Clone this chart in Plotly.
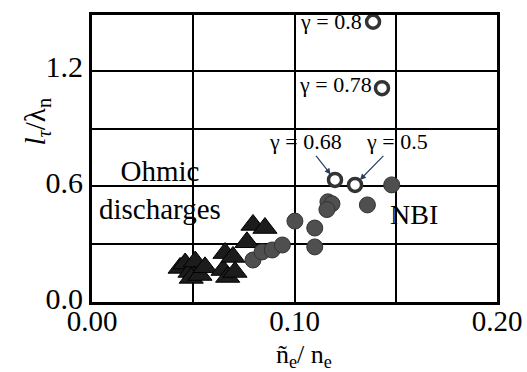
import plotly.graph_objects as go

# Ohmic discharges (triangles)
ohmic_x = [0.0435, 0.046, 0.0484, 0.049, 0.051, 0.0533, 0.0558,
           0.0647, 0.0657, 0.067, 0.0696, 0.0706, 0.0765, 0.0795, 0.0854]
ohmic_y = [0.177, 0.20, 0.156, 0.125, 0.21, 0.14, 0.18,
           0.166, 0.254, 0.13, 0.234, 0.156, 0.31, 0.40, 0.384]

# NBI (filled circles)
nbi_x = [0.0795, 0.084, 0.089, 0.094, 0.1002, 0.110, 0.110,
         0.1165, 0.1185, 0.116, 0.136, 0.148]
nbi_y = [0.218, 0.26, 0.27, 0.296, 0.42, 0.384, 0.286,
         0.52, 0.51, 0.48, 0.504, 0.608]

# Open circles with gamma labels
open_x = [0.1388, 0.1432, 0.120, 0.1299]
open_y = [1.455, 1.11, 0.634, 0.608]
open_labels = ["γ = 0.8", "γ = 0.78", "γ = 0.68", "γ = 0.5"]

y_ticks = [0.0, 0.6, 1.2]
y_ticktext = ["0.0", "0.6", "1.2"]
y_grid_step = 0.3
x_ticks = [0.0, 0.10, 0.20]
x_ticktext = ["0.00", "0.10", "0.20"]
x_grid_step = 0.05

FONT = "Liberation Serif"

fig = go.Figure()
fig.add_trace(go.Scatter(
    x=ohmic_x, y=ohmic_y, mode="markers",
    marker=dict(symbol="triangle-up", size=21, color="#1c1c1c",
                line=dict(color="#000", width=1)),
    showlegend=False))
fig.add_trace(go.Scatter(
    x=nbi_x, y=nbi_y, mode="markers",
    marker=dict(symbol="circle", size=16, color="#4f4f4f",
                line=dict(color="#333", width=1)),
    showlegend=False))
fig.add_trace(go.Scatter(
    x=open_x, y=open_y, mode="markers",
    marker=dict(symbol="circle", size=13, color="white",
                line=dict(color="#333", width=3.5)),
    showlegend=False))

# gamma labels
fig.add_annotation(x=open_x[0], y=open_y[0], text=open_labels[0], showarrow=False,
                   xanchor="right", xshift=-9, yshift=0, font=dict(size=22))
fig.add_annotation(x=open_x[1], y=open_y[1], text=open_labels[1], showarrow=False,
                   xanchor="right", xshift=-8, yshift=4, font=dict(size=22))
fig.add_annotation(x=open_x[2], y=open_y[2], text=open_labels[2], showarrow=True,
                   arrowhead=2, arrowsize=1, arrowwidth=1.2, standoff=7,
                   ax=-30, ay=-38, font=dict(size=22))
fig.add_annotation(x=open_x[3], y=open_y[3], text=open_labels[3], showarrow=True,
                   arrowhead=2, arrowsize=1, arrowwidth=1.2, standoff=7,
                   ax=42, ay=-43, font=dict(size=22))

fig.add_annotation(x=0.0336, y=0.58, text="Ohmic<br>discharges", showarrow=False,
                   align="center", font=dict(size=29))
fig.add_annotation(x=0.159, y=0.452, text="NBI", showarrow=False,
                   font=dict(size=28))

# axis titles placed like the reference
fig.add_annotation(xref="paper", yref="paper", x=-0.135, y=0.63,
                   text="<i>l</i><sub><i>τ</i></sub>/λ<sub>n</sub>", textangle=-90,
                   showarrow=False, xanchor="center", yanchor="middle",
                   font=dict(size=29))
fig.add_annotation(xref="paper", yref="paper", x=0.523, y=-0.188,
                   text="ñ<sub>e</sub>/ n<sub>e</sub>",
                   showarrow=False, xanchor="center", yanchor="middle",
                   font=dict(size=26))

fig.update_layout(
    width=527, height=372,
    margin=dict(l=92, r=30, t=15, b=70, autoexpand=False),
    plot_bgcolor="white", paper_bgcolor="white",
    font=dict(family=FONT, color="black", size=29),
    xaxis=dict(range=[0, 0.2], tickvals=x_ticks, ticktext=x_ticktext,
               showgrid=True, gridcolor="black", gridwidth=1.5,
               minor=dict(dtick=x_grid_step, tick0=0, showgrid=True,
                          gridcolor="black", gridwidth=1.5),
               showline=True, linecolor="black", linewidth=3, mirror=True,
               ticks="", zeroline=False, tickfont=dict(size=29), automargin=False,
               ticklabelstandoff=-9),
    yaxis=dict(range=[0, 1.49], tickvals=y_ticks, ticktext=y_ticktext,
               showgrid=True, gridcolor="black", gridwidth=1.5,
               minor=dict(dtick=y_grid_step, tick0=0, showgrid=True,
                          gridcolor="black", gridwidth=1.5),
               showline=True, linecolor="black", linewidth=3, mirror=True,
               ticks="", zeroline=False, tickfont=dict(size=30), automargin=False,
               ticklabelshift=-4),
)

fig.write_html("out.html")
